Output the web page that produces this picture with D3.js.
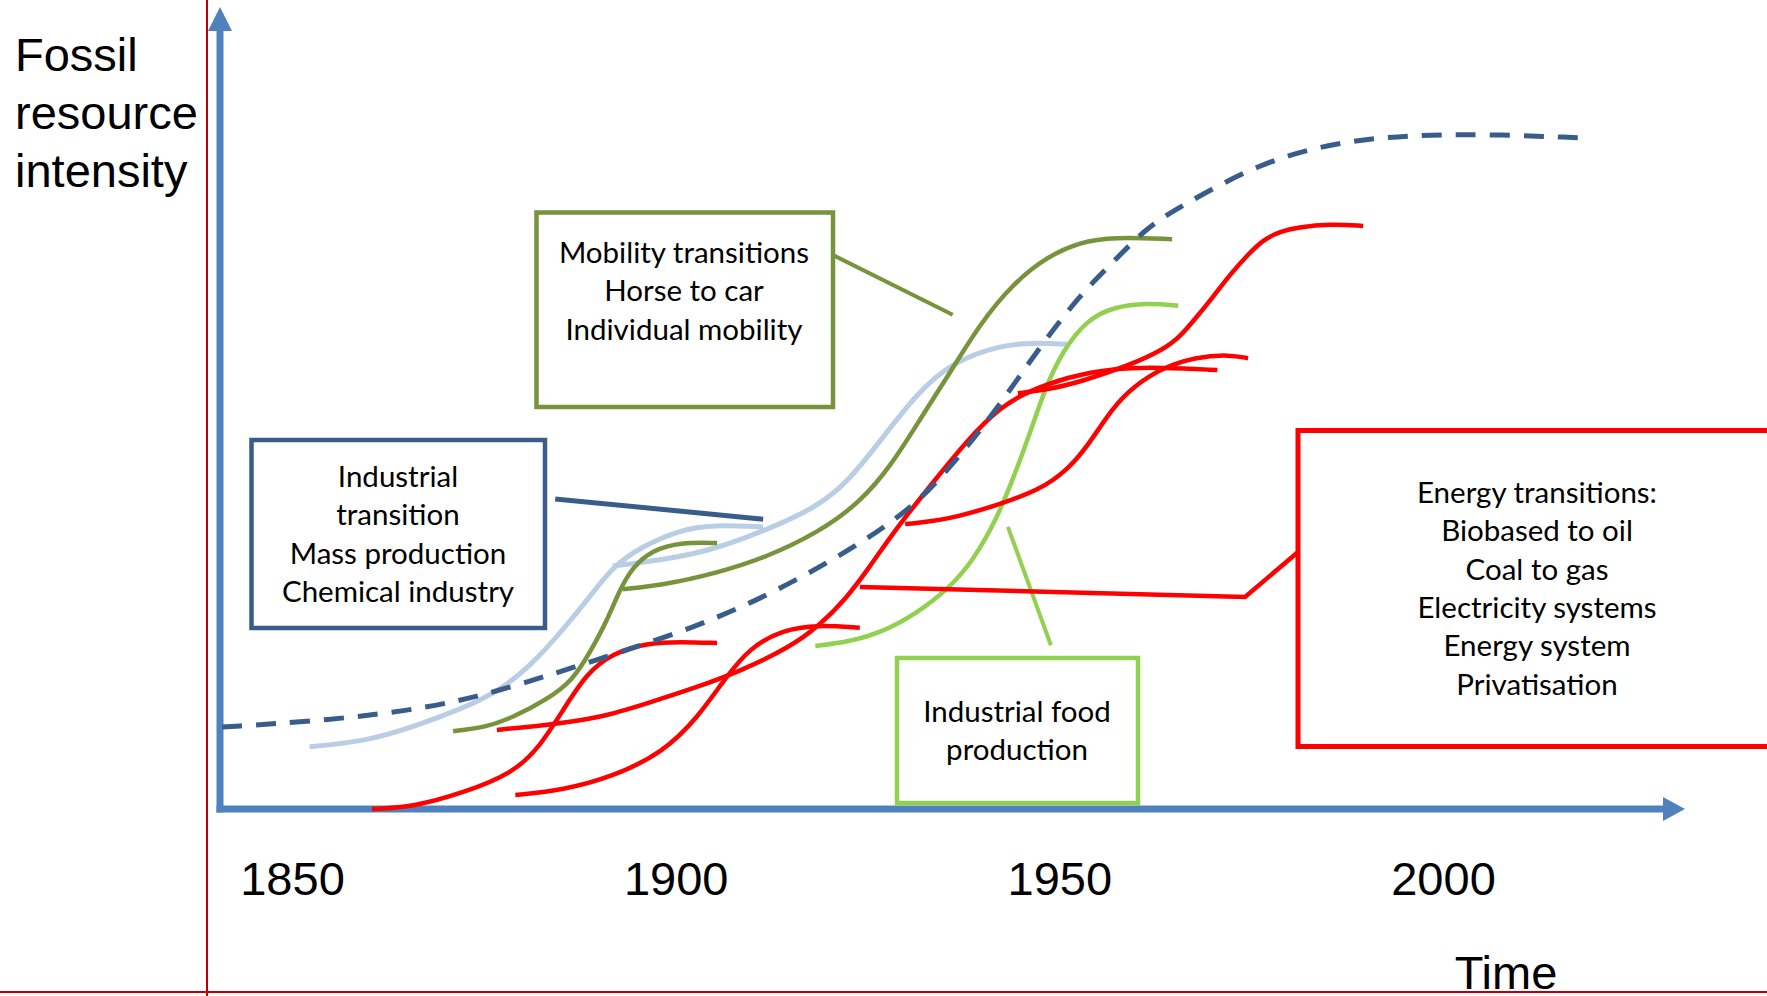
<!DOCTYPE html>
<html>
<head>
<meta charset="utf-8">
<script src="https://cdn.jsdelivr.net/npm/d3@7"></script>
<style>
	body { margin: 0; background: #fff; }
	svg { display: block; }
</style>
</head>
<body>
<svg id="chart"></svg>
<script>
// ticks on the time axis
let tickYears = [1850, 1900, 1950, 2000];

// [year, intensity], 0 = time axis, 100 = top of the frame
let fossilTrend = [[1840.9, 11.7], [1855.0, 12.7], [1867.1, 14.3], [1876.7, 16.7], [1889.7, 21.3], [1902.8, 26.0],
	[1913.6, 31.3], [1924.9, 38.4], [1931.5, 43.7], [1935.8, 48.9], [1940.1, 54.6], [1944.5, 61.3], [1948.4, 67.4],
	[1953.1, 73.9], [1957.0, 78.1], [1961.4, 83.1], [1965.7, 86.0], [1976.0, 92.3], [1986.1, 95.3], [1996.0, 96.3],
	[2006.0, 96.4], [2017.6, 95.9]];

let industrialA = [[1852.3, 8.9], [1859.3, 9.6], [1865.8, 11.7], [1872.3, 14.4], [1876.7, 16.7], [1881.0, 20.3],
	[1885.3, 25.6], [1888.8, 30.3], [1891.8, 34.6], [1895.4, 37.4], [1900.6, 39.9], [1904.9, 40.6], [1911.4, 40.3]];
let industrialB = [[1891.8, 34.7], [1898.4, 35.6], [1904.9, 37.0], [1911.9, 39.9], [1918.4, 43.1], [1922.7, 47.0],
	[1927.0, 53.1], [1931.5, 59.4], [1935.8, 63.7], [1942.3, 66.3], [1946.6, 66.6], [1951.0, 66.4]];

let mobilityA = [[1871.0, 11.1], [1875.4, 11.7], [1878.8, 13.1], [1883.2, 15.6], [1886.6, 18.4], [1888.8, 22.3],
	[1891.1, 27.0], [1892.7, 31.3], [1894.4, 34.6], [1897.0, 37.0], [1900.6, 38.1], [1905.4, 38.0]];
let mobilityB = [[1893.1, 31.4], [1898.4, 32.0], [1905.4, 33.7], [1911.9, 36.0], [1918.4, 39.4], [1924.0, 43.7],
	[1928.3, 49.4], [1931.8, 55.6], [1935.4, 61.7], [1939.7, 69.4], [1944.0, 75.1], [1948.4, 78.9], [1952.7, 81.0],
	[1957.0, 81.7], [1964.7, 81.4]];

let food = [[1918.2, 23.3], [1922.7, 23.9], [1927.0, 25.3], [1931.5, 28.0], [1935.8, 31.7], [1938.8, 35.6],
	[1941.6, 40.9], [1943.8, 46.7], [1946.1, 53.4], [1948.1, 60.0], [1950.4, 65.4], [1953.6, 69.9], [1957.0, 71.7],
	[1961.4, 72.3], [1965.5, 71.9]];

let energyA = [[1860.4, 0.0], [1865.8, 0.3], [1872.3, 2.3], [1878.8, 5.1], [1882.3, 8.9], [1885.3, 14.1],
	[1888.4, 19.4], [1891.8, 22.3], [1896.3, 23.7], [1900.6, 23.9], [1905.4, 23.7]];
let energyB = [[1879.1, 2.0], [1885.3, 2.7], [1891.8, 4.6], [1898.4, 8.1], [1902.9, 13.1], [1906.4, 18.6],
	[1909.7, 23.1], [1914.0, 25.6], [1918.4, 26.3], [1924.0, 25.9]];
let energyC = [[1876.7, 11.3], [1883.2, 12.0], [1890.1, 13.0], [1896.3, 15.1], [1902.8, 17.4], [1908.4, 19.7],
	[1914.9, 23.1], [1918.8, 26.3], [1922.1, 29.9], [1925.3, 34.6], [1928.6, 39.9], [1933.5, 46.6], [1938.0, 52.7],
	[1942.3, 57.4], [1945.8, 59.6], [1951.0, 61.7], [1957.0, 63.0], [1963.5, 63.1], [1970.6, 62.7]];
let energyD = [[1929.9, 40.7], [1935.4, 41.3], [1941.9, 43.4], [1947.5, 45.6], [1951.0, 48.4], [1953.6, 51.7],
	[1957.0, 57.4], [1959.6, 60.3], [1963.5, 63.1], [1967.9, 64.6], [1972.2, 64.9], [1974.6, 64.4]];
let energyE = [[1944.6, 59.4], [1948.4, 59.9], [1952.7, 61.0], [1959.2, 63.4], [1963.5, 65.6], [1965.7, 67.4],
	[1967.9, 70.3], [1970.0, 73.1], [1972.2, 76.3], [1974.5, 79.1], [1976.5, 81.3], [1978.8, 82.5], [1981.0, 83.1],
	[1985.3, 83.6], [1989.6, 83.3]];

// leader lines from the boxes to the curves, same units
let industryLeader = [[1884.3, 44.3], [1911.4, 41.4]];
let mobilityLeader = [[1920.2, 79.3], [1936.1, 70.6]];
let foodLeader = [[1943.3, 40.3], [1948.9, 23.4]];
let energyLeader = [[1924.0, 31.7], [1974.2, 30.3], [1981.0, 36.6]];

let industryText = ["Industrial", "transition", "Mass production", "Chemical industry"];
let mobilityText = ["Mobility transitions", "Horse to car", "Individual mobility"];
let foodText = ["Industrial food", "production"];
let energyText = ["Energy transitions:", "Biobased to oil", "Coal to gas", "Electricity systems", "Energy system", "Privatisation"];

let w = 1767;
let h = 996;

let darkBlue = "#385d8a";
let lightBlue = "#b9cde5";
let olive = "#77933c";
let green = "#92d050";
let red = "#ff0000";
let axisColor = "#4f81bd";

let arial = "'Liberation Sans', Arial, sans-serif";
let boxFont = "Lato, 'Open Sans', sans-serif";

let svg = d3.select("#chart")
	.attr("width", w)
	.attr("height", h);

let x = d3.scaleLinear()
	.domain([1850, 2000])
	.range([292, 1443]);

let y = d3.scaleLinear()
	.domain([0, 100])
	.range([809, 109]);

let line = d3.line()
	.x((d) => { return x(d[0]); })
	.y((d) => { return y(d[1]); })
	.curve(d3.curveBasis);

let straight = d3.line()
	.x((d) => { return x(d[0]); })
	.y((d) => { return y(d[1]); });

// axes with arrow heads
let originX = 220;
let originY = y(0);
let yTip = 7;
let xTip = 1685;
let head = 22;

svg.append("line")
	.attr("x1", originX).attr("y1", originY + 3.5)
	.attr("x2", originX).attr("y2", yTip + head)
	.attr("stroke", axisColor)
	.attr("stroke-width", 7);
svg.append("path")
	.attr("d", `M${originX},${yTip}L${originX - 12},${yTip + head + 2}L${originX + 12},${yTip + head + 2}Z`)
	.attr("fill", axisColor);

svg.append("line")
	.attr("x1", originX - 3.5).attr("y1", originY)
	.attr("x2", xTip - head).attr("y2", originY)
	.attr("stroke", axisColor)
	.attr("stroke-width", 7);
svg.append("path")
	.attr("d", `M${xTip},${originY}L${xTip - head},${originY - 12}L${xTip - head},${originY + 12}Z`)
	.attr("fill", axisColor);

let xAxis = svg.append("g")
	.attr("transform", `translate(0,${originY})`)
	.call(d3.axisBottom(x).tickValues(tickYears).tickFormat(d3.format("d")).tickSize(0));
xAxis.select(".domain").remove();
xAxis.selectAll("text")
	.attr("y", 86)
	.attr("dy", 0)
	.attr("fill", "#000")
	.style("font-family", arial)
	.style("font-size", "47px");

// axis titles
svg.append("text")
	.attr("font-family", arial)
	.attr("font-size", 47)
	.selectAll("tspan")
	.data(["Fossil", "resource", "intensity"])
	.enter().append("tspan")
	.attr("x", 15)
	.attr("y", (d, i) => { return 71 + i * 57.8; })
	.text((d) => { return d; });

svg.append("text")
	.attr("x", 1506)
	.attr("y", 989)
	.attr("text-anchor", "middle")
	.attr("font-family", arial)
	.attr("font-size", 47)
	.text("Time");

// the transition curves
let series = [
	{ points: industrialA, color: lightBlue, width: 5 },
	{ points: industrialB, color: lightBlue, width: 5 },
	{ points: mobilityA, color: olive, width: 4.5 },
	{ points: mobilityB, color: olive, width: 4.5 },
	{ points: food, color: green, width: 4.5 },
	{ points: energyA, color: red, width: 4.5 },
	{ points: energyB, color: red, width: 4.5 },
	{ points: energyC, color: red, width: 4.5 },
	{ points: energyD, color: red, width: 4.5 },
	{ points: energyE, color: red, width: 4.5 },
	{ points: fossilTrend, color: darkBlue, width: 5, dash: "20,14" }
];

svg.append("g")
	.selectAll("path")
	.data(series)
	.enter().append("path")
	.attr("d", (d) => { return line(d.points); })
	.attr("fill", "none")
	.attr("stroke", (d) => { return d.color; })
	.attr("stroke-width", (d) => { return d.width; })
	.attr("stroke-dasharray", (d) => { return d.dash ? d.dash : null; });

// annotation boxes
let boxes = [
	{ x0: 251.5, y0: 440, x1: 545, y1: 628, color: darkBlue, lines: industryText, cx: 398, top: 487 },
	{ x0: 536.5, y0: 212.5, x1: 833, y1: 407, color: olive, lines: mobilityText, cx: 684, top: 263 },
	{ x0: 897, y0: 658, x1: 1138, y1: 803, color: green, lines: foodText, cx: 1017, top: 722 },
	{ x0: 1298, y0: 430.5, x1: 1800, y1: 746.5, color: red, lines: energyText, cx: 1537, top: 503, sw: 5 }
];

let leaders = [
	{ points: industryLeader, color: darkBlue, width: 5 },
	{ points: mobilityLeader, color: olive, width: 4 },
	{ points: foodLeader, color: green, width: 4 },
	{ points: energyLeader, color: red, width: 4.5 }
];

svg.append("g")
	.selectAll("path")
	.data(leaders)
	.enter().append("path")
	.attr("d", (d) => { return straight(d.points); })
	.attr("fill", "none")
	.attr("stroke", (d) => { return d.color; })
	.attr("stroke-width", (d) => { return d.width; })
	.attr("stroke-linejoin", "miter");

let box = svg.append("g")
	.selectAll("g")
	.data(boxes)
	.enter().append("g");

box.append("rect")
	.attr("x", (d) => { return d.x0; })
	.attr("y", (d) => { return d.y0; })
	.attr("width", (d) => { return d.x1 - d.x0; })
	.attr("height", (d) => { return d.y1 - d.y0; })
	.attr("fill", "#fff")
	.attr("stroke", (d) => { return d.color; })
	.attr("stroke-width", (d) => { return d.sw ? d.sw : 4.5; });

box.append("text")
	.attr("text-anchor", "middle")
	.attr("font-family", boxFont)
	.attr("font-size", 29.5)
	.attr("fill", "#000")
	.each(function(d) {
		d3.select(this).selectAll("tspan")
			.data(d.lines)
			.enter().append("tspan")
			.attr("x", d.cx)
			.attr("y", (t, i) => { return d.top + i * 38.3; })
			.text((t) => { return t; });
	});

// thin red guide lines of the slide
svg.append("line")
	.attr("x1", 207).attr("y1", 0)
	.attr("x2", 207).attr("y2", h)
	.attr("stroke", "#c00000")
	.attr("stroke-width", 2);
svg.append("line")
	.attr("x1", 0).attr("y1", 992)
	.attr("x2", w).attr("y2", 992)
	.attr("stroke", "#c00000")
	.attr("stroke-width", 2);
</script>
</body>
</html>
